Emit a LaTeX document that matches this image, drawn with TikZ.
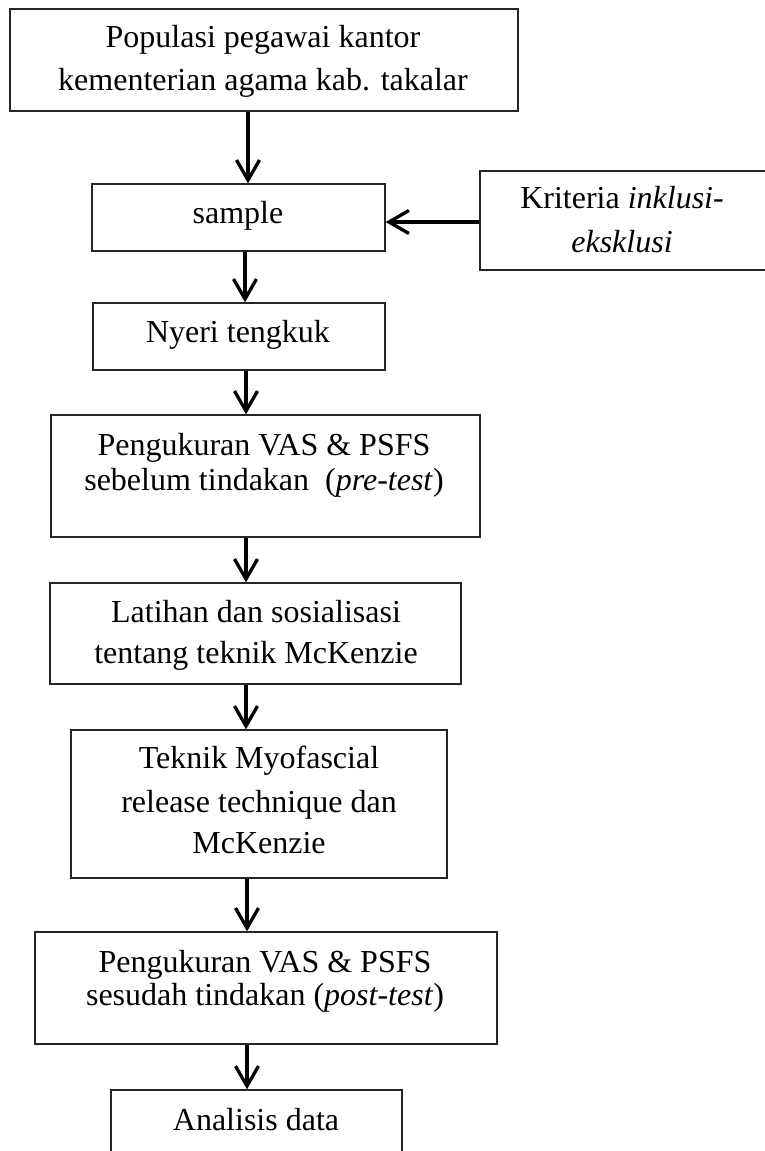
\documentclass[tikz,border=0pt]{standalone}
\usepackage{fontspec}
\setmainfont{Liberation Serif}
\usetikzlibrary{arrows.meta,fit}
\begin{document}
\begin{tikzpicture}[x=1pt,y=-1pt,
  box/.style={draw=black!85, line width=1.3pt, inner sep=0pt, rectangle},
  txt/.style={anchor=base, font=\fontsize{32}{38}\selectfont, inner sep=0pt},
  arr/.style={line width=3.3pt, -{Straight Barb[length=20pt,width=23pt]}}]
\useasboundingbox (0,0) rectangle (764,1151);
% boxes
\node[box, fit={(10,9) (518,111)}] (top) {};
\node[box, fit={(92,184) (385,251)}] (sample) {};
\node[box, fit={(480,171) (767,270)}] (krit) {};
\node[box, fit={(93,303) (385,370)}] (nyeri) {};
\node[box, fit={(51,415) (480,537)}] (pre) {};
\node[box, fit={(50,583) (461,684)}] (latihan) {};
\node[box, fit={(71,730) (447,878)}] (teknik) {};
\node[box, fit={(35,932) (497,1044)}] (post) {};
\node[box, fit={(111,1090) (402,1162)}] (analisis) {};
% texts
\node[txt] (t1a) at (263,47) {Populasi pegawai kantor};
\node[txt] (t1b) at (263,90) {kementerian agama kab. takalar};
\node[txt] (t2) at (238,223) {sample};
\node[txt] (t3a) at (622,208) {Kriteria \textit{inklusi-}};
\node[txt] (t3b) at (622,252) {\textit{eksklusi}};
\node[txt] (t4) at (238,342) {Nyeri tengkuk};
\node[txt] (t5a) at (264,455) {Pengukuran VAS \& PSFS};
\node[txt] (t5b) at (264,490) {sebelum tindakan~~(\textit{pre-test})};
\node[txt] (t6a) at (256,622) {Latihan dan sosialisasi};
\node[txt] (t6b) at (256,663) {tentang teknik McKenzie};
\node[txt] (t7a) at (259,768) {Teknik Myofascial};
\node[txt] (t7b) at (259,812) {release technique dan};
\node[txt] (t7c) at (259,853) {McKenzie};
\node[txt] (t8a) at (265,972) {Pengukuran VAS \& PSFS};
\node[txt] (t8b) at (265,1005) {sesudah tindakan (\textit{post-test})};
\node[txt] (t9) at (256,1130) {Analisis data};
% arrow x positions
\coordinate (xa) at (248,0);
\coordinate (xb) at (245,0);
\coordinate (xc) at (246,0);
\coordinate (xd) at (247,0);
\coordinate (yk) at (0,222);
% connectors
\draw[arr] (top.south -| xa) -- (sample.north -| xa);
\draw[arr] (krit.west |- yk) -- (sample.east |- yk);
\draw[arr] (sample.south -| xb) -- (nyeri.north -| xb);
\draw[arr] (nyeri.south -| xc) -- (pre.north -| xc);
\draw[arr] (pre.south -| xc) -- (latihan.north -| xc);
\draw[arr] (latihan.south -| xc) -- (teknik.north -| xc);
\draw[arr] (teknik.south -| xd) -- (post.north -| xd);
\draw[arr] (post.south -| xd) -- (analisis.north -| xd);
\end{tikzpicture}
\end{document}
